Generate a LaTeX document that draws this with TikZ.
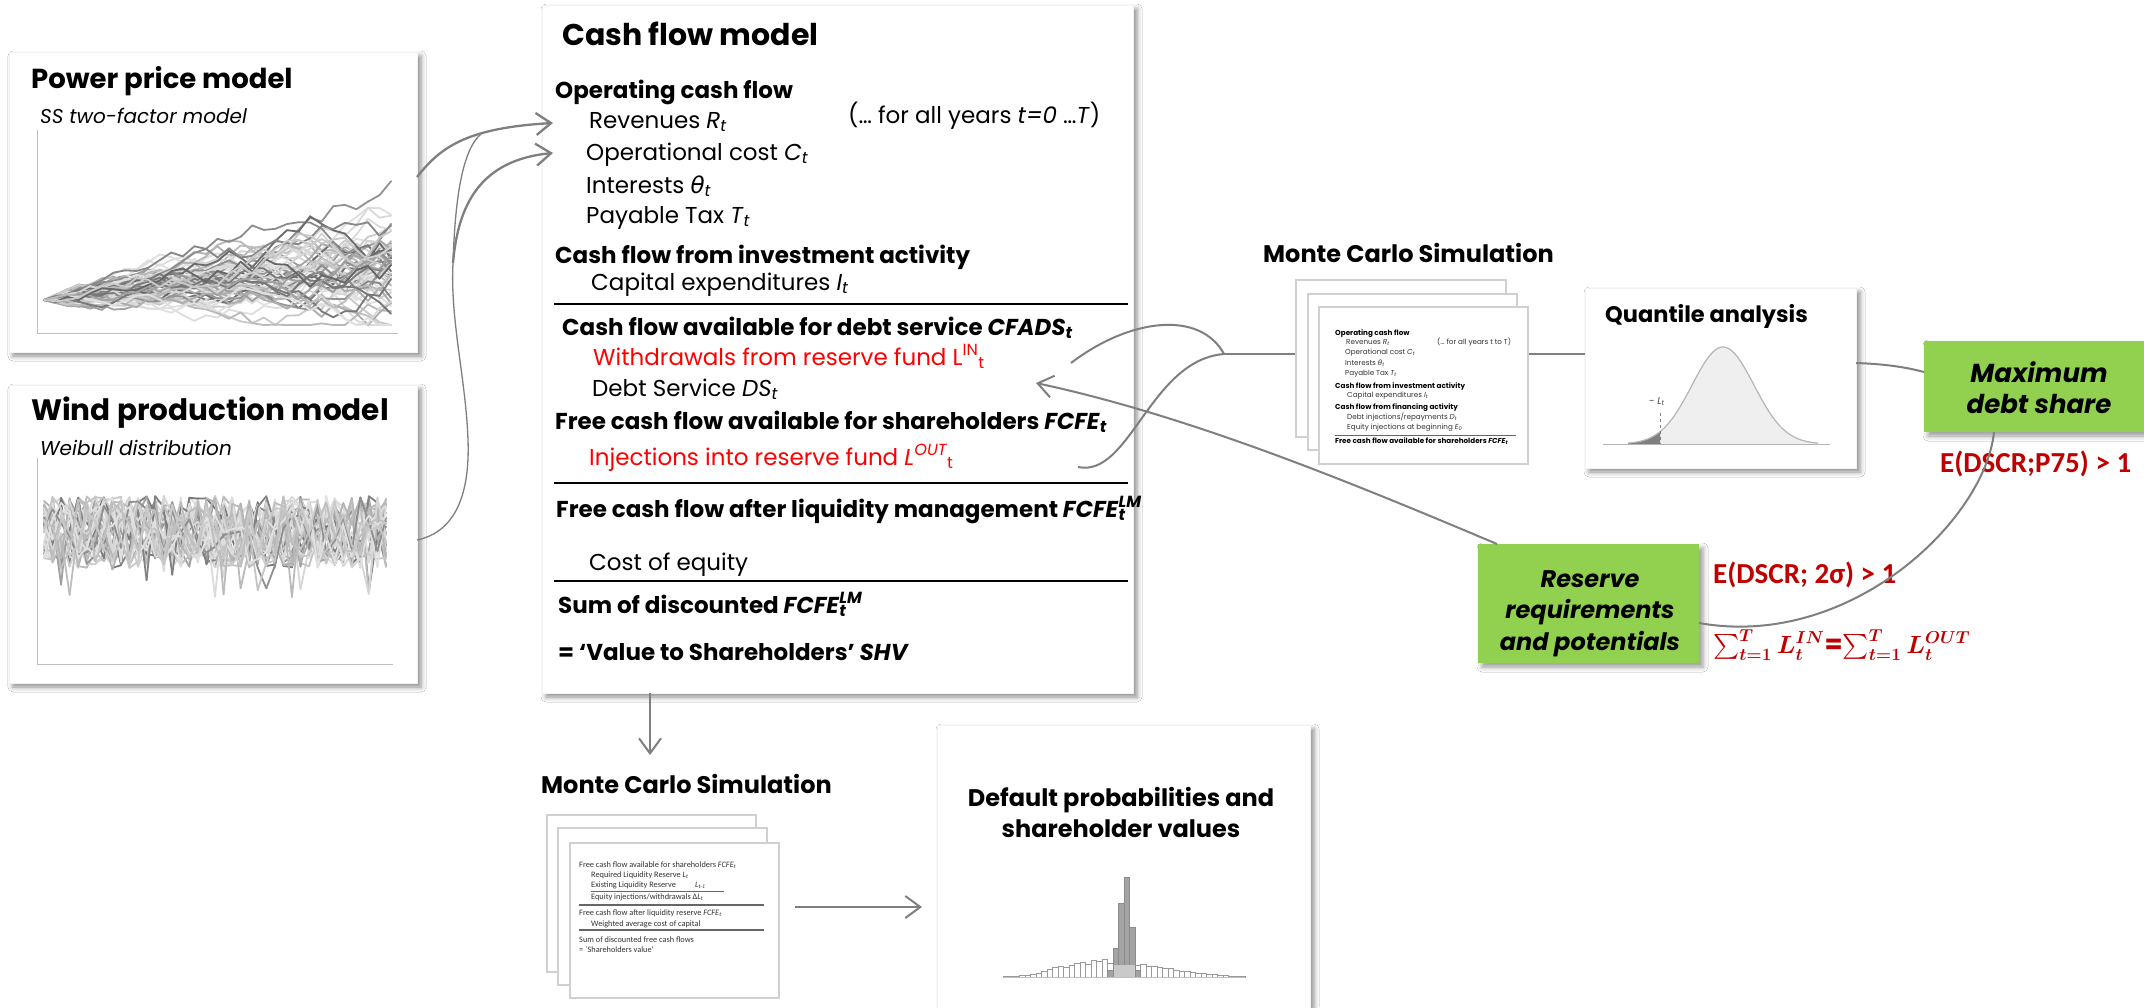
\documentclass[tikz,border=0pt]{standalone}
\usepackage{exscale}
\usepackage{fontspec}
\setmainfont{Poppins}
\newfontfamily\carl{Carlito}
\newfontfamily\dejavu{DejaVu Sans}
\usetikzlibrary{arrows.meta,shadows.blur}
\definecolor{linegray}{HTML}{7F7F7F}
\definecolor{sheetgray}{HTML}{D0D0D0}
\definecolor{boxgreen}{HTML}{92D050}
\definecolor{darkred}{HTML}{C00000}
\definecolor{pured}{HTML}{FF0000}
\definecolor{axisgray}{HTML}{BFBFBF}
\definecolor{bellfill}{HTML}{EFEFEF}
\definecolor{bellline}{HTML}{B5B5B5}
\definecolor{tailgray}{HTML}{808080}
\definecolor{histdark}{HTML}{A3A3A3}
\definecolor{histlight}{HTML}{C9C9C9}
\newcommand\sbi[1]{\textsubscript{\itshape #1}}
\newcommand\sbu[1]{\textsubscript{#1}}
\newcommand\supsb[2]{\rlap{\textsuperscript{#1}}\textsubscript{#2}}
\newsavebox\sumbox
\begin{document}
\sbox\sumbox{\fontsize{26}{30}\selectfont\color{darkred}\boldmath$\sum_{t=1}^{T} L_t^{IN}$\textbf{=}$\sum_{t=1}^{T} L_t^{OUT}$}%
\begin{tikzpicture}[x=1pt,y=-1pt,
  panel/.style={anchor=north west, inner sep=0, outer sep=0, fill=white, draw=black!5,
    blur shadow={shadow xshift=4pt, shadow yshift=-4pt, shadow blur radius=5pt, shadow opacity=45}},
  gbox/.style={anchor=north west, inner sep=0, outer sep=0, fill=boxgreen,
    blur shadow={shadow xshift=4pt, shadow yshift=-4pt, shadow blur radius=5pt, shadow opacity=40}},
  sheet/.style={anchor=north west, inner sep=0, outer sep=0, fill=white, draw=sheetgray, line width=1.5pt},
  conn/.style={linegray, line width=2pt},
  thinconn/.style={linegray, line width=1.3pt},
  arr/.style={conn, -{Straight Barb[length=15pt,width=22pt]}},
  ttl/.style={anchor=base west, inner sep=0, font=\fontsize{24}{28}\selectfont\bfseries},
  bigttl/.style={anchor=base west, inner sep=0, font=\fontsize{29.5}{34}\selectfont\bfseries},
  subt/.style={anchor=base west, inner sep=0, font=\fontsize{20}{24}\selectfont\itshape},
  hd/.style={anchor=base west, inner sep=0, font=\fontsize{23}{27}\selectfont\bfseries},
  bd/.style={anchor=base west, inner sep=0, font=\fontsize{23}{27}\selectfont},
  st/.style={anchor=base west, inner sep=0, font=\fontsize{7.2}{8}\selectfont, text=black!80},
  stb/.style={anchor=base west, inner sep=0, font=\fontsize{7.2}{8}\selectfont\bfseries},
  lt/.style={anchor=base west, inner sep=0, font=\carl\fontsize{8.3}{10}\selectfont, text=black!80},
  gtext/.style={anchor=base, inner sep=0, font=\fontsize{24}{28}\selectfont\bfseries\itshape},
  redt/.style={anchor=base west, inner sep=0, text=darkred, font=\carl\fontsize{29}{34}\selectfont\bfseries}
]
\useasboundingbox (0,0) rectangle (2144,1007);
\fill[white] (0,0) rectangle (2144,1007);

% ---------- panels ----------
\node[panel, minimum width=408, minimum height=300] (power) at (9,52) {};
\node[panel, minimum width=408, minimum height=298] (wind) at (9,385) {};
\node[panel, minimum width=591, minimum height=688] (cash) at (542,5) {};
\node[panel, minimum width=271, minimum height=180] (quant) at (1585,288) {};
\node[panel, minimum width=373, minimum height=320] (deflt) at (937,725) {};
\node[gbox, minimum width=230, minimum height=91] (maxd) at (1924,341) {};
\node[gbox, minimum width=221, minimum height=119] (resv) at (1478,544) {};

% ---------- power price chart ----------
\draw[axisgray, line width=1pt] (37,130) -- (37,333) -- (398,333);
\pgfmathsetseed{31}
\foreach \i in {1,...,60}{
  \pgfmathtruncatemacro{\gl}{12+68*rnd*rnd}
  \xdef\cy{300}\xdef\cx{44}
  \foreach \k in {1,...,30}{
    \pgfmathsetmacro{\nx}{44+11.57*\k}
    \pgfmathsetmacro{\ny}{min(325,max(148,\cy-1.3+(4+0.45*\k)*rand))}
    \draw[black!\gl, line width=1.8pt, line cap=round] (\cx,\cy) -- (\nx,\ny);
    \xdef\cx{\nx}\xdef\cy{\ny}
  }
}
% ---------- wind chart ----------
\draw[axisgray, line width=1pt] (37,458) -- (37,664) -- (393,664);
\pgfmathsetseed{77}
\foreach \i in {1,...,36}{
  \pgfmathtruncatemacro{\gl}{12+68*rnd*rnd}
  \pgfmathsetmacro{\cyy}{530+30*rand}
  \xdef\cy{\cyy}\xdef\cx{44}
  \foreach \k in {1,...,40}{
    \pgfmathsetmacro{\nx}{44+8.55*\k}
    \pgfmathsetmacro{\ny}{532+36*rand+ifthenelse(rnd<0.03,32,0)}
    \draw[black!\gl, line width=1.8pt, line cap=round] (\cx,\cy) -- (\nx,\ny);
    \xdef\cx{\nx}\xdef\cy{\ny}
  }
}

% ---------- panel titles ----------
\node[bigttl, font=\fontsize{27.5}{32}\selectfont\bfseries] (powt) at (31,88) {Power price model};
\node[subt] (pows) at (40,123) {SS two-factor model};
\node[bigttl] (windt) at (31,420) {Wind production model};
\node[subt] (winds) at (40,455) {Weibull distribution};

% ---------- cash flow model ----------
\node[anchor=base west, inner sep=0, font=\fontsize{30}{36}\selectfont\bfseries] (cft) at (562,45) {Cash flow model};
\node[hd] (ocf) at (555,98) {Operating cash flow};
\node[bd] (rev) at (589,128) {Revenues \textit{R}\sbi{t}};
\node[bd] (allyrs) at (848,123) {(… for all years \textit{t=0} …\textit{T})};
\node[bd] (opc) at (586,160) {Operational cost \textit{C}\sbi{t}};
\node[bd] (intr) at (586,193) {Interests {\dejavu\itshape θ}\sbi{t}};
\node[bd] (ptax) at (586,223) {Payable Tax \textit{T}\sbi{t}};
\node[hd] (cfi) at (555,263) {Cash flow from investment activity};
\node[bd] (capex) at (591,290) {Capital expenditures \textit{I}\sbi{t}};
\draw[black, line width=2pt] (554,304) -- (1128,304);
\node[hd] (cfads) at (562,335) {Cash flow available for debt service \textit{CFADS}\sbi{t}};
\node[bd, text=pured] (wdr) at (593,365) {Withdrawals from reserve fund L\textsuperscript{IN}\sbu{t}};
\node[bd] (dsv) at (592,396) {Debt Service \textit{DS}\sbi{t}};
\node[hd] (fcfe) at (555,429) {Free cash flow available for shareholders \textit{FCFE}\sbi{t}};
\node[bd, text=pured] (inj) at (589,465) {Injections into reserve fund \textit{L}\textsuperscript{\itshape OUT}\sbu{t}};
\draw[black, line width=2pt] (554,483) -- (1128,483);
\node[hd] (fcflm) at (556,517) {Free cash flow after liquidity management \textit{FCFE}\supsb{\itshape LM}{\itshape t}};
\node[bd] (coe) at (589,570) {Cost of equity};
\draw[black, line width=2pt] (554,581) -- (1128,581);
\node[hd] (sumd) at (558,613) {Sum of discounted \textit{FCFE}\supsb{\itshape LM}{\itshape t}};
\node[hd] (shv) at (558,660) {= `Value to Shareholders' \textit{SHV}};

% ---------- quantile analysis ----------
\node[anchor=base west, inner sep=0, font=\fontsize{22.5}{27}\selectfont\bfseries] (qt) at (1605,322) {Quantile analysis};
\fill[bellfill] (1628,444) -- plot[domain=1628:1818, samples=90] (\x,{444-97*exp(-((\x-1723)/31)^2/2)}) -- (1818,444) -- cycle;
\fill[tailgray] (1628,444) -- plot[domain=1628:1660, samples=25] (\x,{444-97*exp(-((\x-1723)/31)^2/2)}) -- (1660,444) -- cycle;
\draw[bellline, line width=1.2pt] plot[domain=1628:1818, samples=90] (\x,{444-97*exp(-((\x-1723)/31)^2/2)});
\draw[bellline, line width=1pt] (1603,444) -- (1830,444);
\draw[tailgray, dashed, line width=0.8pt] (1660,413) -- (1660,444);
\node[anchor=base, inner sep=0, font=\fontsize{10}{12}\selectfont, text=black!70] (lt) at (1657,404) {- \textit{L}\sbi{t}};

% ---------- green boxes ----------
\node[gtext, font=\fontsize{26}{30}\selectfont\bfseries\itshape] (maxa) at (2039,382) {Maximum};
\node[gtext, font=\fontsize{26}{30}\selectfont\bfseries\itshape] (maxb) at (2039,413) {debt share};
\node[gtext] (resa) at (1590,587) {Reserve};
\node[gtext] (resb) at (1590,618) {requirements};
\node[gtext] (resc) at (1590,650) {and potentials};

\node[redt] (p75) at (1940,472) {E(DSCR;P75) > 1};
\node[redt] (sig) at (1713,583) {E(DSCR; 2σ) > 1};
\node[anchor=base west, inner sep=0] (sumeq) at (1713,653) {\usebox\sumbox};

% ---------- upper Monte Carlo ----------
\node[ttl] (mct) at (1263,262) {Monte Carlo Simulation};
\coordinate (wdo) at (1071,363);
\coordinate (ino) at (1078,467);
\coordinate (mj) at (1224,354);
\draw[conn] (mj) -- (quant.west |- mj);
\node[sheet, minimum width=210, minimum height=157] (us1) at (1296,280) {};
\node[sheet, minimum width=209, minimum height=156] (us2) at (1308,294) {};
\node[sheet, minimum width=209, minimum height=157] (us3) at (1319,307) {};
\node[stb] (u1) at (1335,335) {Operating cash flow};
\node[st] (u2) at (1346,344) {Revenues \textit{R}\sbi{t}};
\node[st] (u2b) at (1437,344) {(… for all years t to T)};
\node[st] (u3) at (1345,354) {Operational cost \textit{C}\sbi{t}};
\node[st] (u4) at (1345,365) {Interests {\dejavu\itshape θ}\sbi{t}};
\node[st] (u5) at (1345,375) {Payable Tax \textit{T}\sbi{t}};
\node[stb] (u6) at (1335,388) {Cash flow from investment activity};
\node[st] (u7) at (1347,397) {Capital expenditures \textit{I}\sbi{t}};
\node[stb] (u8) at (1335,409) {Cash flow from financing activity};
\node[st] (u9) at (1347,419) {Debt injections/repayments \textit{D}\sbi{t}};
\node[st] (u10) at (1347,429) {Equity injections at beginning \textit{E}\sbi{0}};
\draw[black!60, line width=1pt] (1335,435) -- (1516,435);
\node[stb] (u11) at (1335,443) {Free cash flow available for shareholders \textit{FCFE}\sbi{t}};

% ---------- lower Monte Carlo ----------
\node[ttl] (mct2) at (541,793) {Monte Carlo Simulation};
\node[sheet, minimum width=209, minimum height=157] (ls1) at (547,815) {};
\node[sheet, minimum width=209, minimum height=157] (ls2) at (558,828) {};
\node[sheet, minimum width=209, minimum height=155] (ls3) at (570,843) {};
\node[lt] (l1) at (579,867) {Free cash flow available for shareholders \textit{FCFE}\sbi{t}};
\node[lt] (l2) at (591,877) {Required Liquidity Reserve \textit{L}\sbi{t}};
\node[lt] (l3) at (591,887) {Existing Liquidity Reserve};
\node[lt] (l3b) at (695,887) {\textit{L}\sbi{t-1}};
\draw[black!60, line width=0.8pt] (591,891) -- (724,891);
\node[lt] (l4) at (591,899) {Equity injections/withdrawals Δ\textit{L}\sbi{t}};
\draw[black!60, line width=1.2pt] (579,905) -- (764,905);
\node[lt] (l5) at (579,915) {Free cash flow after liquidity reserve \textit{FCFE}\sbi{t}};
\node[lt] (l6) at (591,926) {Weighted average cost of capital};
\draw[black!60, line width=1.2pt] (579,930) -- (764,930);
\node[lt] (l7) at (579,942) {Sum of discounted free cash flows};
\node[lt] (l8) at (579,952) {= `Shareholders value'};

% ---------- default probabilities ----------
\node[anchor=base, inner sep=0, font=\fontsize{24}{28}\selectfont\bfseries] (dpa) at (1121,806) {Default probabilities and};
\node[anchor=base, inner sep=0, font=\fontsize{24}{28}\selectfont\bfseries] (dpb) at (1121,837) {shareholder values};
\foreach \bx/\bh in {1003/1,1008.5/1,1014/1,1019.5/2,1025/2,1030.5/3,1036/4,1041.5/6,1047/8,1052.5/10,1058/11,1063.5/10,1069/12,1074.5/14,1080/15,1085.5/13,1091/17,1096.5/16,1102/18,1107.5/14,1113/13,1118.5/12,1124/12,1129.5/12,1135/12,1140.5/13,1146/11,1151.5/11,1157/10,1162.5/9,1168/9,1173.5/7,1179/6,1184.5/6,1190/5,1195.5/4,1201/4,1206.5/3,1212/3,1217.5/2,1223/2,1228.5/1,1234/1,1239.5/1}
  \draw[black!40, line width=0.6pt, fill=white] (\bx,977) rectangle ++(5.5,-\bh);
\foreach \bx/\bh in {1107.7/7,1113.2/29,1118.7/74,1124.2/100,1129.7/50,1135.2/7}
  \draw[black!45, line width=0.5pt, fill=histdark] (\bx,977) rectangle ++(5.5,-\bh);
\fill[histlight] (1113.5,977) rectangle (1135,965);
\draw[axisgray, line width=0.8pt] (1003,977) -- (1245,977);

% ---------- connectors ----------
\coordinate (pwo) at (417,177);
\coordinate (revin) at (553,123);
\coordinate (opin) at (553,153);
\coordinate (wdout) at (417,540);
\coordinate (wj) at (453,263);
\coordinate (wm) at (481,134);
\draw[arr, line width=2.3pt] (pwo) .. controls (440,148) and (465,128) .. (revin);
\draw[thinconn] (wdout) .. controls (455,532) and (470,495) .. (468,440) .. controls (466,380) and (450,320) .. (wj) .. controls (455,200) and (462,150) .. (wm);
\draw[arr, line width=2.3pt] (wj) .. controls (458,205) and (480,160) .. (opin);

\coordinate (dn2) at (650,755);
\draw[arr] (cash.south -| dn2) -- (dn2);
\coordinate (ha1) at (795,907);
\coordinate (ha2) at (922,907);
\draw[arr] (ha1) -- (ha2);

\draw[conn] (wdo) .. controls (1130,318) and (1200,310) .. (mj);
\draw[conn] (ino) .. controls (1130,478) and (1150,360) .. (mj);

\coordinate (rt) at (1497,544);
\coordinate (dstip) at (1036,383);
\draw[arr] (rt) .. controls (1350,482) and (1190,416) .. (dstip);

\coordinate (qe) at (1856,363);
\coordinate (me) at (1924,372);
\draw[conn] (qe) .. controls (1885,364) and (1905,367) .. (me);
\coordinate (mb) at (1994,432);
\coordinate (rr) at (1699,623);
\draw[conn] (mb) .. controls (1985,520) and (1850,650) .. (rr);
\end{tikzpicture}
\end{document}
